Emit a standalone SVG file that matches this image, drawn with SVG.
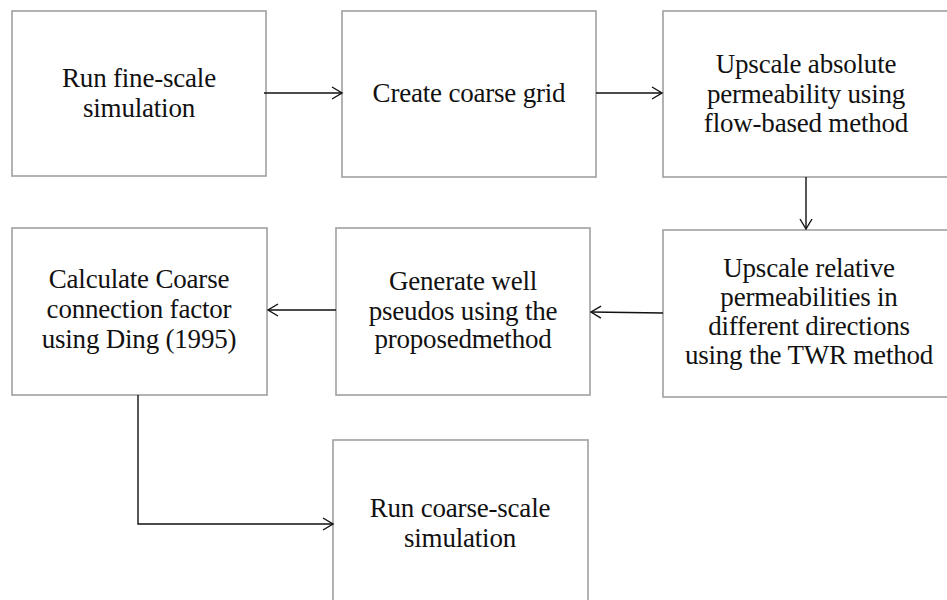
<svg xmlns="http://www.w3.org/2000/svg" width="947" height="600" viewBox="0 0 947 600">
<defs>
<style>
.box{fill:#fff;stroke:#a0a0a0;stroke-width:1.6}
.t{font-family:'Liberation Serif','DejaVu Serif',serif;font-size:27px;fill:#111;text-anchor:middle;letter-spacing:-0.2px}
.c{fill:none;stroke:#111;stroke-width:1.4}
</style>
<marker id="ah" markerWidth="14" markerHeight="14" refX="12" refY="7" orient="auto" markerUnits="userSpaceOnUse">
<path d="M2,1 L12,7 L2,13" fill="none" stroke="#111" stroke-width="1.4"/>
</marker>
</defs>
<rect width="947" height="600" fill="#fff"/>
<g id="n1"><rect class="box" x="12" y="11" width="254" height="165"/>
<text class="t" x="139" y="87">Run fine-scale</text><text class="t" x="139" y="117">simulation</text></g>
<g id="n2"><rect class="box" x="342" y="11" width="254" height="166"/>
<text class="t" x="469" y="102">Create coarse grid</text></g>
<g id="n3"><rect class="box" x="663" y="11" width="290" height="166"/>
<text class="t" x="806" y="73">Upscale absolute</text><text class="t" x="806" y="103">permeability using</text><text class="t" x="806" y="132">flow-based method</text></g>
<g id="n4"><rect class="box" x="663" y="230" width="290" height="167"/>
<text class="t" x="809" y="277">Upscale relative</text><text class="t" x="809" y="306">permeabilities in</text><text class="t" x="809" y="335">different directions</text><text class="t" x="809" y="364">using the TWR method</text></g>
<g id="n5"><rect class="box" x="336" y="228" width="254" height="167"/>
<text class="t" x="463" y="290">Generate well</text><text class="t" x="463" y="320">pseudos using the</text><text class="t" x="463" y="348">proposedmethod</text></g>
<g id="n6"><rect class="box" x="12" y="228" width="255" height="167"/>
<text class="t" x="139" y="288">Calculate Coarse</text><text class="t" x="139" y="318">connection factor</text><text class="t" x="139" y="348">using Ding (1995)</text></g>
<g id="n7"><rect class="box" x="333" y="440" width="255" height="170"/>
<text class="t" x="460" y="517">Run coarse-scale</text><text class="t" x="460" y="547">simulation</text></g>
<g id="connectors">
<path class="c" d="M264,93 L342,93" marker-end="url(#ah)"/>
<path class="c" d="M596,93 L662,93" marker-end="url(#ah)"/>
<path class="c" d="M806,177 L806,229" marker-end="url(#ah)"/>
<path class="c" d="M663,313 L591,312" marker-end="url(#ah)"/>
<path class="c" d="M336,310 L268,310" marker-end="url(#ah)"/>
<path class="c" d="M138,395 L138,524 L333,524" marker-end="url(#ah)"/>
</g>
</svg>
